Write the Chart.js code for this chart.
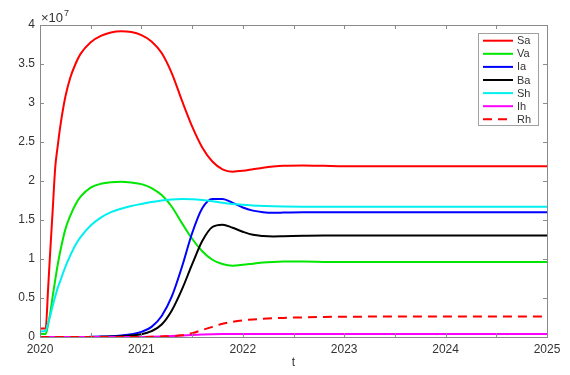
<!DOCTYPE html>
<html>
<head>
<meta charset="utf-8">
<script src="https://cdn.jsdelivr.net/npm/chart.js@4/dist/chart.umd.min.js"></script>
<style>
  html, body { margin: 0; padding: 0; background: #fff; }
  #wrap { width: 570px; height: 375px; }
</style>
</head>
<body>
<div id="wrap"><canvas id="c" width="570" height="375"></canvas></div>
<script>
// Time samples (years) and population curves, in units of 1e7
const t  = [2020, 2020.056, 2020.08, 2020.1, 2020.125, 2020.15, 2020.175, 2020.2, 2020.25, 2020.3,
            2020.35, 2020.4, 2020.5, 2020.6, 2020.7, 2020.8, 2020.9, 2021.0, 2021.1, 2021.2,
            2021.3, 2021.4, 2021.5, 2021.6, 2021.7, 2021.8, 2021.9, 2022.0, 2022.1, 2022.2,
            2022.3, 2022.4, 2022.6, 2022.8, 2023, 2023.5, 2024, 2024.5, 2025];

const Sa = [0.11, 0.11, 0.62, 1.08, 1.62, 2.17, 2.45, 2.7, 3.08, 3.33,
            3.5, 3.63, 3.78, 3.86, 3.905, 3.92, 3.91, 3.87, 3.79, 3.64,
            3.38, 3.03, 2.7, 2.43, 2.25, 2.15, 2.12, 2.13, 2.15, 2.17,
            2.185, 2.195, 2.2, 2.195, 2.19, 2.19, 2.19, 2.19, 2.19];

const Va = [0.04, 0.04, 0.16, 0.3, 0.52, 0.73, 0.93, 1.1, 1.38, 1.56,
            1.7, 1.8, 1.915, 1.965, 1.985, 1.99, 1.98, 1.96, 1.91, 1.82,
            1.67, 1.46, 1.26, 1.1, 0.99, 0.935, 0.915, 0.925, 0.94, 0.955,
            0.963, 0.967, 0.967, 0.963, 0.96, 0.96, 0.96, 0.96, 0.96];

const Ia = [0, 0, 0, 0, 0, 0, 0, 0, 0, 0,
            0, 0, 0.002, 0.005, 0.01, 0.02, 0.035, 0.065, 0.13, 0.27,
            0.52, 0.9, 1.33, 1.65, 1.77, 1.77, 1.72, 1.66, 1.62, 1.6,
            1.593, 1.595, 1.6, 1.6, 1.6, 1.6, 1.6, 1.6, 1.6];

const Ba = [0, 0, 0, 0, 0, 0, 0, 0, 0, 0,
            0, 0, 0, 0.002, 0.005, 0.01, 0.02, 0.035, 0.075, 0.16,
            0.34, 0.61, 0.93, 1.23, 1.41, 1.44, 1.4, 1.35, 1.31, 1.295,
            1.29, 1.292, 1.297, 1.3, 1.3, 1.3, 1.3, 1.3, 1.3];

const Sh = [0.07, 0.08, 0.18, 0.27, 0.4, 0.52, 0.63, 0.72, 0.9, 1.05,
            1.18, 1.28, 1.43, 1.53, 1.6, 1.645, 1.68, 1.705, 1.73, 1.75,
            1.762, 1.768, 1.765, 1.755, 1.74, 1.72, 1.705, 1.695, 1.685, 1.68,
            1.675, 1.672, 1.67, 1.67, 1.67, 1.67, 1.67, 1.67, 1.67];

const Ih = [0, 0, 0, 0, 0, 0, 0, 0, 0, 0,
            0, 0, 0, 0, 0, 0, 0, 0.001, 0.003, 0.007,
            0.012, 0.018, 0.025, 0.031, 0.035, 0.037, 0.038, 0.038, 0.038, 0.038,
            0.038, 0.038, 0.038, 0.038, 0.038, 0.038, 0.038, 0.038, 0.038];

const Rh = [0, 0, 0, 0, 0, 0, 0, 0, 0, 0,
            0, 0, 0, 0, 0, 0, 0, 0.001, 0.003, 0.007,
            0.012, 0.022, 0.05, 0.09, 0.13, 0.17, 0.195, 0.213, 0.225, 0.233,
            0.24, 0.245, 0.252, 0.257, 0.26, 0.262, 0.263, 0.263, 0.263];

const seriesNames = ['Sa', 'Va', 'Ia', 'Ba', 'Sh', 'Ih', 'Rh'];
const seriesData  = [Sa, Va, Ia, Ba, Sh, Ih, Rh];
const seriesColor = ['#ff0000', '#00e600', '#0000ff', '#000000', '#00f0f0', '#ff00ff', '#ff0000'];
const seriesDash  = [[], [], [], [], [], [], [9, 6]];

const xTickValues = [2020, 2020.5, 2021, 2021.5, 2022, 2022.5, 2023, 2023.5, 2024, 2024.5, 2025];
const yTickValues = [0, 0.5, 1, 1.5, 2, 2.5, 3, 3.5, 4];
const xTitle = 't';

const textColor = '#333333';
const axisColor = '#8a8a8a';
const fontFamily = '"Liberation Sans", Arial, Helvetica, sans-serif';

const datasets = seriesNames.map((name, i) => ({
  label: name,
  data: t.map((x, k) => ({ x: x, y: seriesData[i][k] })),
  borderColor: seriesColor[i],
  backgroundColor: seriesColor[i],
  borderWidth: 2,
  borderDash: seriesDash[i],
  pointRadius: 0,
  fill: false,
  cubicInterpolationMode: 'monotone',
  order: seriesNames.length - i
}));

// Axes box, inward ticks on all sides, exponent note and legend
const framePlugin = {
  id: 'frame',
  afterDraw(chart) {
    const ctx = chart.ctx;
    const a = chart.chartArea;
    const xs = chart.scales.x, ys = chart.scales.y;
    ctx.save();
    ctx.strokeStyle = axisColor;
    ctx.lineWidth = 1;
    ctx.strokeRect(Math.round(a.left) + 0.5, Math.round(a.top) + 0.5,
                   Math.round(a.right - a.left), Math.round(a.bottom - a.top));
    const tl = 4;
    ctx.beginPath();
    xTickValues.forEach(v => {
      const px = Math.round(xs.getPixelForValue(v)) + 0.5;
      ctx.moveTo(px, a.bottom); ctx.lineTo(px, a.bottom - tl);
      ctx.moveTo(px, a.top); ctx.lineTo(px, a.top + tl);
    });
    yTickValues.forEach(v => {
      const py = Math.round(ys.getPixelForValue(v)) + 0.5;
      ctx.moveTo(a.left, py); ctx.lineTo(a.left + tl, py);
      ctx.moveTo(a.right, py); ctx.lineTo(a.right - tl, py);
    });
    ctx.stroke();

    // exponent note above the y axis
    ctx.fillStyle = textColor;
    ctx.textBaseline = 'alphabetic';
    ctx.textAlign = 'left';
    ctx.font = '13px ' + fontFamily;
    ctx.fillText('\u00d710', a.left + 1, a.top - 3);
    const w = ctx.measureText('\u00d710').width;
    ctx.font = '9px ' + fontFamily;
    ctx.fillText('7', a.left + 2 + w, a.top - 9);

    // legend
    const lx = 478.5, ly = 33.5, lw = 60, lh = 92;
    ctx.fillStyle = '#ffffff';
    ctx.fillRect(lx, ly, lw, lh);
    ctx.strokeStyle = '#a0a0a0';
    ctx.strokeRect(lx, ly, lw, lh);
    ctx.font = '11px ' + fontFamily;
    ctx.textBaseline = 'middle';
    seriesNames.forEach((name, i) => {
      const y = 40.7 + i * 13.1;
      ctx.strokeStyle = seriesColor[i];
      ctx.lineWidth = 2;
      ctx.setLineDash(seriesDash[i]);
      ctx.beginPath();
      ctx.moveTo(483, y); ctx.lineTo(513, y);
      ctx.stroke();
      ctx.setLineDash([]);
      ctx.fillStyle = textColor;
      ctx.fillText(name, 517, y + 0.5);
    });
    ctx.restore();
  }
};

new Chart(document.getElementById('c'), {
  type: 'line',
  data: { datasets },
  options: {
    responsive: false,
    animation: false,
    layout: { padding: { top: 25, right: 23, left: 0, bottom: 0 } },
    plugins: { legend: { display: false }, tooltip: { enabled: false } },
    scales: {
      x: {
        type: 'linear',
        min: 2020, max: 2025,
        grid: { display: false, drawTicks: false },
        border: { display: false },
        afterBuildTicks: s => { s.ticks = xTickValues.map(v => ({ value: v })); },
        afterFit: s => { s.height = 38; },
        ticks: {
          autoSkip: false, maxRotation: 0, padding: 5,
          color: textColor, font: { size: 12, family: fontFamily },
          callback: v => Number.isInteger(v) ? String(v) : ''
        },
        title: {
          display: true, text: xTitle, color: textColor,
          font: { size: 12, family: fontFamily },
          padding: { top: 0, bottom: 5 }
        }
      },
      y: {
        type: 'linear',
        min: 0, max: 4,
        grid: { display: false, drawTicks: false },
        border: { display: false },
        afterBuildTicks: s => { s.ticks = yTickValues.map(v => ({ value: v })); },
        afterFit: s => { s.width = 40; },
        ticks: {
          padding: 5,
          color: textColor, font: { size: 12, family: fontFamily },
          callback: v => String(v)
        }
      }
    }
  },
  plugins: [framePlugin]
});
</script>
</body>
</html>
